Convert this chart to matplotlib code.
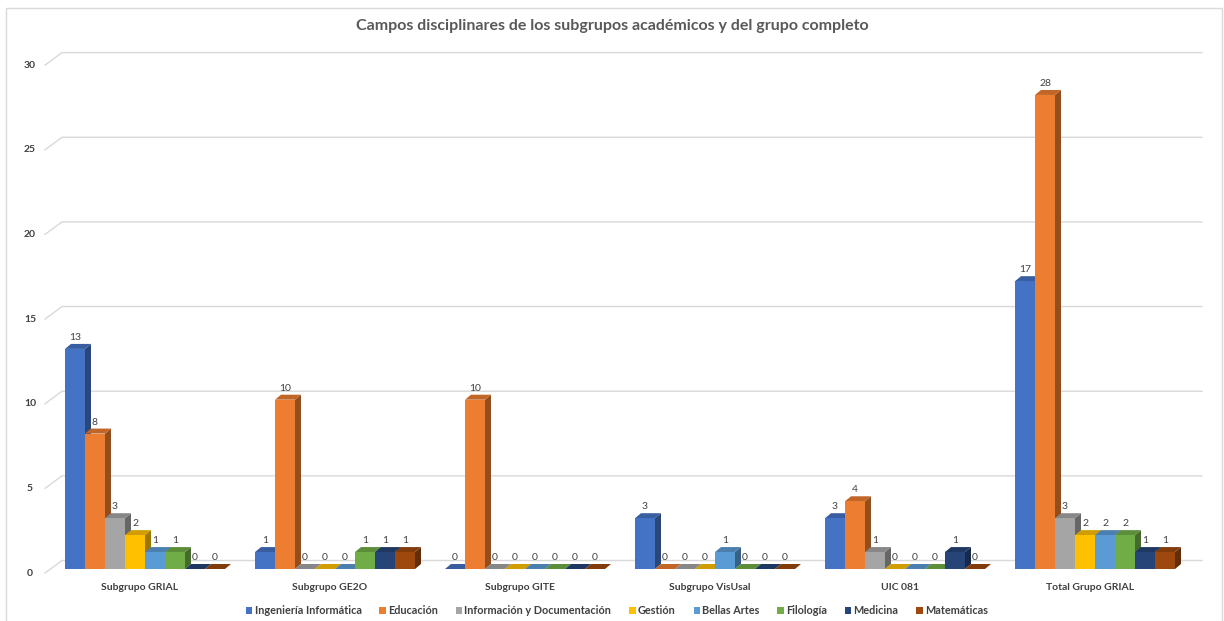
import numpy as np
import matplotlib
matplotlib.use("Agg")
import matplotlib.pyplot as plt
from matplotlib.patches import Polygon, Rectangle, Patch

plt.rcParams['font.family'] = ['Lato', 'DejaVu Sans']

# datos
grupos = ['Subgrupo GRIAL', 'Subgrupo GE2O', 'Subgrupo GITE', 'Subgrupo VisUsal',
          'UIC 081', 'Total Grupo GRIAL']
campos = ['Ingeniería Informática', 'Educación', 'Información y Documentación',
          'Gestión', 'Bellas Artes', 'Filología', 'Medicina', 'Matemáticas']
ing_informatica = [13, 1, 0, 3, 3, 17]
educacion = [8, 10, 10, 0, 4, 28]
info_doc = [3, 0, 0, 0, 1, 3]
gestion = [2, 0, 0, 0, 0, 2]
bellas_artes = [1, 0, 0, 1, 0, 2]
filologia = [1, 1, 0, 0, 0, 2]
medicina = [0, 1, 0, 0, 1, 1]
matematicas = [0, 1, 0, 0, 0, 1]
series = [ing_informatica, educacion, info_doc, gestion, bellas_artes,
          filologia, medicina, matematicas]
colores = ['#4472C4', '#ED7D31', '#A5A5A5', '#FFC000', '#5B9BD5', '#70AD47',
           '#264478', '#9E480E']

W, H = 1224, 621
fig = plt.figure(figsize=(W / 100, H / 100), dpi=100)

# marco del grafico
fig.patches.append(Rectangle((6 / W, -0.05), 1216 / W, 1.05 - 8 / H, transform=fig.transFigure,
                             fill=False, edgecolor='#d9d9d9', lw=1.0))

ppx = 190.0   # pixeles por categoria
ppy = 16.93   # pixeles por unidad
ax = fig.add_axes([45 / W, (H - 573) / H, 6 * ppx / W, 30 * ppy / H])
ax.set_xlim(-0.5, 5.5)
ax.set_ylim(0, 30)
ax.axis('off')

def dx(p):
    return p / ppx

def dy(p):
    return p / ppy

# paredes / lineas de cuadricula
gx, gy = dx(17), dy(12.5)
for t in range(0, 31, 5):
    ax.plot([-0.5, -0.5 + gx, 5.5 - dx(1183 - 1201 + 18) + gx], [t, t + gy, t + gy],
            color='#d9d9d9', lw=1.0, zorder=1, clip_on=False)
    ax.text(-0.5 - dx(15), t, str(t), ha='center', va='center', fontsize=7.5,
            fontweight='bold', color='#404040')

# barras 3D
bw = dx(20)
bx, by = dx(6), dy(5)
base = dy(4)
x0 = np.arange(len(grupos)) - 0.5 + dx(20)

def oscurecer(c, f):
    r, g, b = matplotlib.colors.to_rgb(c)
    return (r * f, g * f, b * f)

for j, (vals, col) in enumerate(zip(series, colores)):
    left = x0 + j * bw
    ax.bar(left, vals, width=bw, bottom=base, align='edge', color=col,
           edgecolor='none', zorder=3 + 2 * j, clip_on=False)
    for xl, v in zip(left, vals):
        top = base + v
        side = Polygon([(xl + bw, base), (xl + bw + bx, base + by),
                        (xl + bw + bx, top + by), (xl + bw, top)],
                       closed=True, facecolor=oscurecer(col, 0.62), edgecolor='none',
                       zorder=2 + 2 * j, clip_on=False)
        cap = Polygon([(xl, top), (xl + bw, top), (xl + bw + bx, top + by), (xl + bx, top + by)],
                      closed=True, facecolor=oscurecer(col, 0.82), edgecolor='none',
                      zorder=2 + 2 * j, clip_on=False)
        ax.add_patch(side)
        ax.add_patch(cap)
        ax.text(xl + bw / 2, top + by + dy(2), str(v), ha='center', va='bottom',
                fontsize=7.5, color='#404040', zorder=30)

# etiquetas de categoria
for i, g in enumerate(grupos):
    ax.text(i, -dy(15), g, ha='center', va='center', fontsize=7.5,
            fontweight='bold', color='#404040')

fig.text(0.5, 1 - 26 / H, 'Campos disciplinares de los subgrupos académicos y del grupo completo',
         ha='center', va='center', fontsize=11.5, fontweight='bold', color='#595959')

handles = [Patch(facecolor=c, edgecolor='none') for c in colores]
leg = fig.legend(handles, campos, loc='center', bbox_to_anchor=(617 / W, 1 - 611 / H),
                 ncol=8, frameon=False, fontsize=7.8, handlelength=0.6, handleheight=0.6,
                 handletextpad=0.2, columnspacing=1.65, borderaxespad=0)
for t in leg.get_texts():
    t.set_color('#404040')
    t.set_fontweight('bold')

fig.savefig('out.png', dpi=100, facecolor='white')
